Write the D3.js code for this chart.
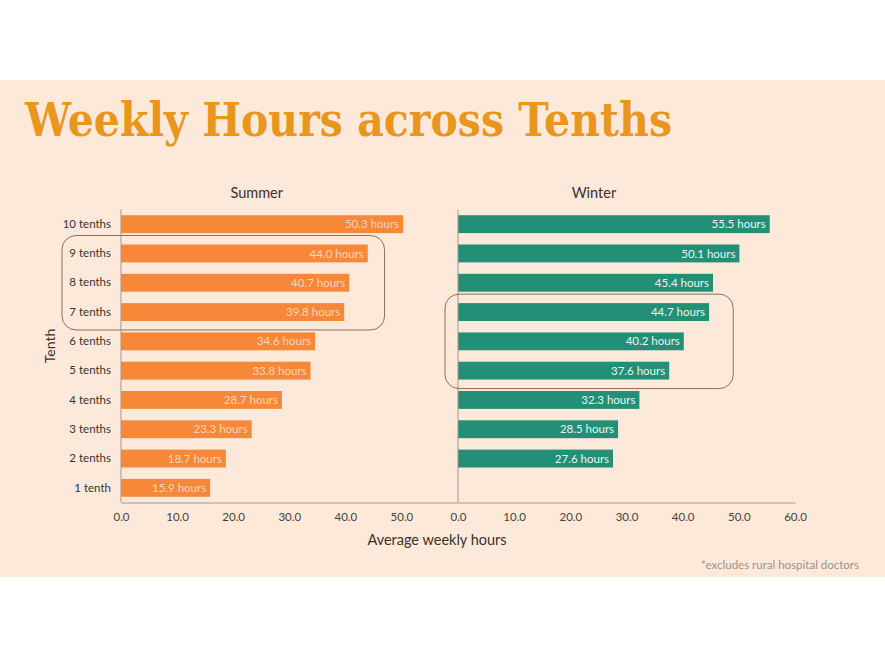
<!DOCTYPE html>
<html>
<head>
<meta charset="utf-8">
<script src="https://cdn.jsdelivr.net/npm/d3@7"></script>
<style>
  html, body { margin: 0; padding: 0; background: #fff; }
  svg { display: block; }
</style>
</head>
<body>
<div id="chart"></div>
<script>
// weekly hours by tenth, summer vs winter (two horizontal bar panels sharing one y axis)

const tenths = ["10 tenths", "9 tenths", "8 tenths", "7 tenths", "6 tenths",
                "5 tenths", "4 tenths", "3 tenths", "2 tenths", "1 tenth"]
const summerHours = [50.3, 44.0, 40.7, 39.8, 34.6, 33.8, 28.7, 23.3, 18.7, 15.9]
// winter has no "1 tenth" bar
const winterHours = [55.5, 50.1, 45.4, 44.7, 40.2, 37.6, 32.3, 28.5, 27.6, null]
const xTicks = [0, 10, 20, 30, 40, 50, 60]

// highlighted groups (rounded boxes)
const summerBox = { rows: ["9 tenths", "7 tenths"], upTo: 47 }
const winterBox = { rows: ["7 tenths", "5 tenths"], upTo: 49 }

const W = 885, H = 658

const svg = d3.select("#chart").append("svg")
  .attr("width", W).attr("height", H)

const sans = "Lato, 'Open Sans', sans-serif"

// peach panel
svg.append("rect")
  .attr("x", 0).attr("y", 80).attr("width", W).attr("height", 497)
  .attr("fill", "#fde9da")

// title
svg.append("text")
  .attr("x", 25).attr("y", 136)
  .attr("textLength", 647).attr("lengthAdjust", "spacingAndGlyphs")
  .style("font-family", "'DejaVu Serif', 'Liberation Serif', serif")
  .style("font-weight", "700").style("font-size", "47px")
  .style("fill", "#e9961f")
  .text("Weekly Hours across Tenths")

// scales
const y = d3.scaleBand().domain(tenths).range([209.5, 502.5]).paddingInner(0.39).paddingOuter(0.195)
const xL = d3.scaleLinear().domain([0, 60]).range([121, 457.5])
const xR = d3.scaleLinear().domain([0, 60]).range([458, 795])

const axisColor = "#a3958b"
const textColor = "#3b302a"

// panels
const panels = [
  { name: "Summer", x: xL, values: summerHours, color: "#f7883a", label: "rgba(255,238,224,0.75)", ticks: xTicks.slice(0, -1), box: summerBox, boxLeft: 59 },
  { name: "Winter", x: xR, values: winterHours, color: "#238f76", label: "#eaf5f0", ticks: xTicks, box: winterBox, boxLeft: 13 }
]

panels.forEach(p => {
  const g = svg.append("g")
  const rows = tenths.map((t, i) => ({ tenth: t, v: p.values[i] })).filter(d => d.v != null)

  g.selectAll("rect.bar")
    .data(rows)
    .join("rect")
    .attr("class", "bar")
    .attr("x", p.x(0))
    .attr("y", d => y(d.tenth))
    .attr("width", d => p.x(d.v) - p.x(0))
    .attr("height", y.bandwidth())
    .attr("fill", p.color)

  g.selectAll("text.val")
    .data(rows)
    .join("text")
    .attr("class", "val")
    .attr("x", d => p.x(d.v) - 4)
    .attr("y", d => y(d.tenth) + y.bandwidth() / 2)
    .attr("dy", "0.36em")
    .attr("text-anchor", "end")
    .style("font-family", sans).style("font-size", "11.5px")
    .style("fill", p.label)
    .text(d => d.v.toFixed(1) + " hours")

  // vertical axis line
  g.append("line")
    .attr("x1", p.x(0)).attr("x2", p.x(0))
    .attr("y1", y.range()[0]).attr("y2", y.range()[1])
    .attr("stroke", axisColor).attr("stroke-width", 1)

  // bottom axis: labels only, no tick marks
  const ax = g.append("g")
    .attr("transform", `translate(0,${y.range()[1]})`)
    .call(d3.axisBottom(p.x).tickValues(p.ticks).tickFormat(d3.format(".1f")).tickSize(0).tickPadding(10))
  ax.select(".domain").attr("stroke", axisColor)
  ax.selectAll("text")
    .style("font-family", sans).style("font-size", "11.5px").style("fill", "#4a3f38")

  // panel title
  g.append("text")
    .attr("x", (p.x(0) + p.x(48.4)) / 2).attr("y", 198)
    .attr("text-anchor", "middle")
    .style("font-family", sans).style("font-size", "14.5px").style("fill", textColor)
    .text(p.name)

  // highlight box
  const top = y(p.box.rows[0]) - 9
  const bottom = y(p.box.rows[1]) + y.bandwidth() + 9
  g.append("rect")
    .attr("x", p.x(0) - p.boxLeft).attr("y", top)
    .attr("width", p.x(p.box.upTo) - p.x(0) + p.boxLeft)
    .attr("height", bottom - top)
    .attr("rx", 14).attr("ry", 14)
    .attr("fill", "none").attr("stroke", "#8d6d55").attr("stroke-width", 1)
})

// y axis labels
const yAx = svg.append("g")
  .attr("transform", `translate(${xL(0)},0)`)
  .call(d3.axisLeft(y).tickSize(0).tickPadding(10))
yAx.select(".domain").remove()
yAx.selectAll("text")
  .style("font-family", sans).style("font-size", "11.5px").style("fill", textColor)

// axis titles
svg.append("text")
  .attr("transform", `translate(55,346) rotate(-90)`)
  .attr("text-anchor", "middle")
  .style("font-family", sans).style("font-size", "14px").style("fill", textColor)
  .text("Tenth")

svg.append("text")
  .attr("x", 437).attr("y", 545)
  .attr("text-anchor", "middle")
  .style("font-family", sans).style("font-size", "14.5px").style("fill", textColor)
  .text("Average weekly hours")

// footnote
svg.append("text")
  .attr("x", 859).attr("y", 569)
  .attr("text-anchor", "end")
  .style("font-family", sans).style("font-size", "11.5px").style("fill", "#9d918a")
  .text("*excludes rural hospital doctors")
</script>
</body>
</html>
